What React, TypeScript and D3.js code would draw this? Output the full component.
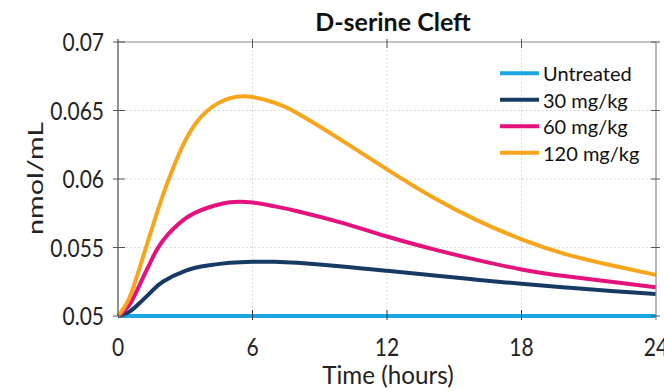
import React from "react";
import * as d3 from "d3";

const timeHours = [0, 0.5, 1, 1.5, 2, 3, 4, 5, 6, 7, 8, 10, 12, 14, 16, 18, 20, 22, 24];
const untreated = [0.05, 0.05, 0.05, 0.05, 0.05, 0.05, 0.05, 0.05, 0.05, 0.05, 0.05, 0.05, 0.05, 0.05, 0.05, 0.05, 0.05, 0.05, 0.05];
const dose30 = [0.05, 0.0503, 0.051, 0.0518, 0.0525, 0.0533, 0.05368, 0.05388, 0.05396, 0.05396, 0.05388, 0.05362, 0.0533, 0.05297, 0.05265, 0.05235, 0.05208, 0.05183, 0.0516];
const dose60 = [0.05, 0.0508, 0.0524, 0.0541, 0.0555, 0.0571, 0.0579, 0.0583, 0.05828, 0.058, 0.05765, 0.0568, 0.0558, 0.0549, 0.0541, 0.0534, 0.0529, 0.0525, 0.0521];
const dose120 = [0.05, 0.0513, 0.0537, 0.0563, 0.0588, 0.0628, 0.065, 0.0659, 0.06598, 0.06555, 0.0648, 0.0628, 0.0607, 0.0587, 0.057, 0.0556, 0.0545, 0.0537, 0.053];

const seriesNames = ["Untreated", "30 mg/kg", "60 mg/kg", "120 mg/kg"];
const seriesValues = [untreated, dose30, dose60, dose120];
const seriesColors = ["#1BA6DF", "#173A63", "#E5127E", "#F9A51B"];

const xTicks = [0, 6, 12, 18, 24];
const yTicks = [0.05, 0.055, 0.06, 0.065, 0.07];

const L = 118, R = 656, T = 42, B = 316;
const FONT = "Lato, 'Open Sans', sans-serif";

export default function App() {
  const x = d3.scaleLinear().domain([0, 24]).range([L, R]);
  const y = d3.scaleLinear().domain([0.05, 0.07]).range([B, T]);
  const line = d3
    .line<number>()
    .x((_, i) => x(timeHours[i]))
    .y((d) => y(d))
    .curve(d3.curveNatural);

  return (
    <svg
      width={664}
      height={391}
      style={{ position: "absolute", left: 0, top: 0, background: "#fff" }}
      fontFamily={FONT}
    >
      <rect x={0} y={0} width={664} height={391} fill="#fff" />
      {/* grid */}
      {xTicks.slice(1, -1).map((t) => (
        <line key={"gx" + t} x1={x(t)} x2={x(t)} y1={T} y2={B} stroke="#cfcfcf" strokeWidth={1} strokeDasharray="1.5,2.5" />
      ))}
      {yTicks.slice(1, -1).map((t) => (
        <line key={"gy" + t} x1={L} x2={R} y1={y(t)} y2={y(t)} stroke="#cfcfcf" strokeWidth={1} strokeDasharray="1.5,2.5" />
      ))}
      {/* data */}
      {seriesValues.map((vals, i) => (
        <path key={seriesNames[i]} d={line(vals) || ""} fill="none" stroke={seriesColors[i]} strokeWidth={4} strokeLinejoin="round" />
      ))}
      {/* box */}
      <line x1={L} x2={R} y1={T} y2={T} stroke="#8a8a8a" strokeWidth={1.2} />
      <line x1={R} x2={R} y1={T} y2={B + 4} stroke="#8a8a8a" strokeWidth={1.2} />
      <line x1={L} x2={L} y1={T - 3} y2={B} stroke="#4a4a4a" strokeWidth={1.2} />
      {/* ticks */}
      {xTicks.slice(1, -1).map((t) => (
        <g key={"tx" + t}>
          <line x1={x(t)} x2={x(t)} y1={B - 6} y2={B + 4} stroke="#333" strokeWidth={1} />
          <line x1={x(t)} x2={x(t)} y1={T - 3} y2={T + 6} stroke="#555" strokeWidth={1} />
        </g>
      ))}
      {yTicks.map((t) => (
        <g key={"ty" + t}>
          <line x1={L - 5} x2={L + 7} y1={y(t)} y2={y(t)} stroke="#555" strokeWidth={1} />
          <line x1={R - 5} x2={R + 4} y1={y(t)} y2={y(t)} stroke="#555" strokeWidth={1} />
        </g>
      ))}
      {/* tick labels */}
      {yTicks.map((t) => (
        <text
          key={"ly" + t}
          transform={`translate(104,${y(t) + 9}) scale(0.84,1)`}
          textAnchor="end"
          fontSize={25}
          fill="#222"
        >
          {d3.format("")(t)}
        </text>
      ))}
      {xTicks.map((t) => (
        <text
          key={"lx" + t}
          transform={`translate(${x(t)},356) scale(0.84,1)`}
          textAnchor="middle"
          fontSize={25}
          fill="#222"
        >
          {t}
        </text>
      ))}
      {/* title and labels */}
      <text x={393} y={31} textAnchor="middle" fontSize={25} fontWeight="bold" fill="#111">
        D-serine Cleft
      </text>
      <text transform="translate(388,384) scale(0.97,1)" textAnchor="middle" fontSize={25} fill="#222">
        Time (hours)
      </text>
      <text
        transform="translate(43,178.5) rotate(-90) scale(1,0.78)"
        textAnchor="middle"
        fontSize={28}
        fill="#222"
        textLength={113}
        lengthAdjust="spacingAndGlyphs"
      >
        nmol/mL
      </text>
      {/* legend */}
      {seriesNames.map((name, i) => {
        const ry = 73.3 + i * 26.45;
        return (
          <g key={"lg" + name}>
            <line x1={500} x2={539} y1={ry} y2={ry} stroke={seriesColors[i]} strokeWidth={4} />
            <text x={543} y={ry + 8} fontSize={20} fill="#111">
              {name}
            </text>
          </g>
        );
      })}
    </svg>
  );
}
